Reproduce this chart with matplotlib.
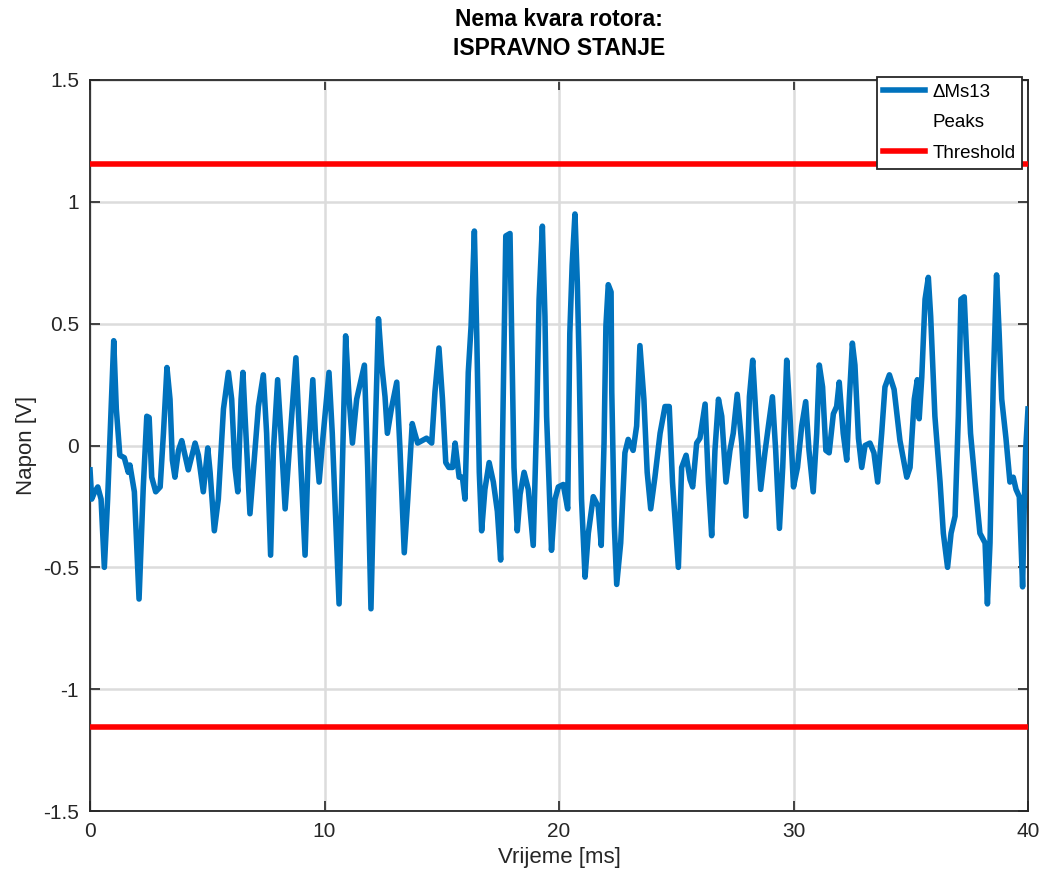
import numpy as np
import matplotlib
matplotlib.use("Agg")
import matplotlib.pyplot as plt

plt.rcParams['font.family'] = ['Liberation Sans', 'DejaVu Sans']

# signal (time in ms, voltage in V)
t_ms = [0.0, 0.07, 0.2, 0.33, 0.47, 0.61, 0.75, 0.9, 1.01, 1.12, 1.27, 1.46, 1.63, 1.7, 1.89,
        2.09, 2.27, 2.42, 2.52, 2.63, 2.8, 2.99, 3.13, 3.28, 3.41, 3.51, 3.62, 3.77, 3.91, 4.19,
        4.48, 4.62, 4.83, 5.02, 5.12, 5.3, 5.47, 5.69, 5.9, 6.04, 6.18, 6.3, 6.44, 6.52, 6.61,
        6.82, 6.96, 7.18, 7.39, 7.53, 7.7, 7.82, 8.0, 8.14, 8.32, 8.53, 8.78, 8.96, 9.17, 9.31,
        9.5, 9.62, 9.77, 9.91, 10.19, 10.33, 10.62, 10.76, 10.9, 11.05, 11.19, 11.37, 11.7, 11.84,
        11.98, 12.12, 12.3, 12.44, 12.58, 12.68, 12.85, 13.08, 13.22, 13.4, 13.55, 13.74, 13.85,
        13.97, 14.35, 14.57, 14.71, 14.88, 15.03, 15.17, 15.3, 15.46, 15.57, 15.74, 15.88, 15.99,
        16.13, 16.25, 16.39, 16.49, 16.6, 16.7, 16.84, 17.02, 17.2, 17.37, 17.51, 17.62, 17.73,
        17.91, 17.98, 18.08, 18.22, 18.34, 18.51, 18.69, 18.9, 19.05, 19.15, 19.29, 19.4, 19.47,
        19.68, 19.83, 19.97, 20.18, 20.37, 20.46, 20.56, 20.68, 20.78, 20.86, 20.96, 21.11, 21.25,
        21.46, 21.67, 21.8, 21.92, 22.0, 22.1, 22.22, 22.25, 22.36, 22.46, 22.63, 22.81, 22.95,
        23.16, 23.31, 23.45, 23.62, 23.76, 23.91, 24.09, 24.31, 24.52, 24.7, 24.84, 24.99, 25.09,
        25.23, 25.42, 25.59, 25.7, 25.87, 26.01, 26.23, 26.37, 26.51, 26.65, 26.8, 26.94, 27.12,
        27.29, 27.43, 27.6, 27.79, 27.97, 28.12, 28.26, 28.4, 28.6, 28.78, 28.93, 29.1, 29.24,
        29.4, 29.54, 29.71, 29.85, 30.0, 30.17, 30.35, 30.52, 30.66, 30.84, 30.99, 31.1, 31.24,
        31.38, 31.52, 31.7, 31.84, 31.95, 32.12, 32.27, 32.38, 32.51, 32.62, 32.77, 32.91, 33.05,
        33.26, 33.43, 33.59, 33.76, 33.9, 34.09, 34.29, 34.54, 34.83, 34.97, 35.15, 35.28, 35.36,
        35.47, 35.61, 35.75, 35.85, 36.03, 36.25, 36.39, 36.57, 36.72, 36.89, 37.03, 37.14, 37.28,
        37.38, 37.55, 37.74, 37.95, 38.17, 38.27, 38.38, 38.52, 38.66, 38.77, 38.88, 39.06, 39.23,
        39.37, 39.49, 39.63, 39.77, 39.83, 39.9, 40.0]
dms13 = [-0.10, -0.22, -0.19, -0.17, -0.22, -0.50, -0.22, 0.15, 0.43, 0.15, -0.04, -0.05, -0.11, -0.08, -0.19,
         -0.63, -0.17, 0.12, 0.115, -0.13, -0.19, -0.17, 0.05, 0.32, 0.19, -0.06, -0.13, -0.02, 0.02, -0.10,
         0.01, -0.04, -0.19, -0.01, -0.11, -0.35, -0.22, 0.15, 0.30, 0.19, -0.09, -0.19, 0.19, 0.30, 0.12,
         -0.28, -0.11, 0.16, 0.29, 0.05, -0.45, -0.02, 0.27, 0.05, -0.26, 0.03, 0.36, -0.02, -0.45, -0.02,
         0.27, 0.03, -0.15, 0.01, 0.30, 0.05, -0.65, -0.09, 0.45, 0.19, 0.01, 0.19, 0.33, -0.09,
         -0.67, -0.09, 0.52, 0.33, 0.20, 0.05, 0.15, 0.26, -0.02, -0.44, -0.22, 0.09, 0.05,
         0.01, 0.03, 0.01, 0.22, 0.40, 0.19, -0.07, -0.09, -0.09, 0.01, -0.13, -0.13, -0.22,
         0.30, 0.49, 0.88, 0.46, -0.11, -0.35, -0.18, -0.07, -0.15, -0.27, -0.47, 0.19, 0.86,
         0.87, 0.46, -0.09, -0.35, -0.20, -0.11, -0.18, -0.41, 0.12, 0.60, 0.90, 0.53, 0.12,
         -0.43, -0.22, -0.17, -0.16, -0.26, 0.46, 0.74, 0.95, 0.67, 0.33, -0.22, -0.54, -0.36,
         -0.21, -0.25, -0.41, 0.01, 0.49, 0.66, 0.63, 0.22, -0.33, -0.57, -0.40, -0.03, 0.025,
         -0.02, 0.08, 0.41, 0.19, -0.11, -0.26, -0.13, 0.05, 0.16, 0.16, -0.15, -0.36, -0.50,
         -0.09, -0.04, -0.14, -0.17, 0.01, 0.03, 0.17, -0.15, -0.37, -0.02, 0.19, 0.12, -0.15,
         -0.02, 0.05, 0.21, 0.01, -0.29, 0.20, 0.35, 0.12, -0.18, -0.03, 0.08, 0.20, -0.02,
         -0.34, -0.09, 0.35, 0.12, -0.17, -0.09, 0.08, 0.18, -0.02, -0.19, 0.05, 0.33, 0.24,
         -0.02, -0.03, 0.13, 0.16, 0.26, 0.05, -0.06, 0.19, 0.42, 0.33, 0.03, -0.09, 0.0,
         0.01, -0.03, -0.15, 0.05, 0.24, 0.29, 0.23, 0.02, -0.13, -0.09, 0.19, 0.27, 0.11,
         0.28, 0.60, 0.69, 0.53, 0.12, -0.15, -0.36, -0.50, -0.36, -0.29, 0.12, 0.60, 0.61,
         0.39, 0.05, -0.15, -0.36, -0.40, -0.65, -0.40, 0.26, 0.70, 0.46, 0.19, 0.03, -0.15,
         -0.13, -0.18, -0.21, -0.58, -0.29, -0.02, 0.15]

# no peak exceeds the threshold
peak_t = []
peak_v = []
threshold = 1.155

fig = plt.figure(figsize=(10.41, 8.75), dpi=100)
ax = fig.add_axes([0.0865, 0.0731, 0.9010, 0.8355])

ax.plot(t_ms, dms13, color='#0072bd', lw=4, label='\u0394Ms13', zorder=3)
ax.plot(peak_t, peak_v, linestyle='none', marker='none', label='Peaks')
ax.plot([0, 40], [threshold, threshold], color='#ff0000', lw=4, label='Threshold', zorder=3)
ax.plot([0, 40], [-threshold, -threshold], color='#ff0000', lw=4, zorder=3)

ax.set_xlim(0, 40)
ax.set_ylim(-1.5, 1.5)
ax.set_xticks([0, 10, 20, 30, 40])
ax.set_yticks([-1.5, -1, -0.5, 0, 0.5, 1, 1.5])
ax.set_yticklabels(['-1.5', '-1', '-0.5', '0', '0.5', '1', '1.5'])
ax.tick_params(direction='in', length=7, width=1.2, top=True, right=True,
               labelsize=15, colors='#262626', pad=8)
ax.grid(True, color='#dcdcdc', lw=1.8)
ax.set_axisbelow(True)
for s in ax.spines.values():
    s.set_linewidth(1.3)
    s.set_color('#262626')

ax.set_xlabel('Vrijeme [ms]', fontsize=16, color='#262626', labelpad=4)
ax.set_ylabel('Napon [V]', fontsize=16, color='#262626', labelpad=4)
ax.set_title('Nema kvara rotora:\nISPRAVNO STANJE', fontsize=16.5, fontweight='bold',
             pad=18, linespacing=1.35)

leg = ax.legend(loc='upper right', bbox_to_anchor=(0.9935, 1.004), fontsize=13.5,
                frameon=True, fancybox=False, framealpha=1, edgecolor='#262626',
                handlelength=2.2, borderpad=0.35, labelspacing=0.72, handletextpad=0.4,
                borderaxespad=0)
leg.get_frame().set_linewidth(1.3)
leg.set_zorder(10)

fig.savefig('out.png', dpi=100)
